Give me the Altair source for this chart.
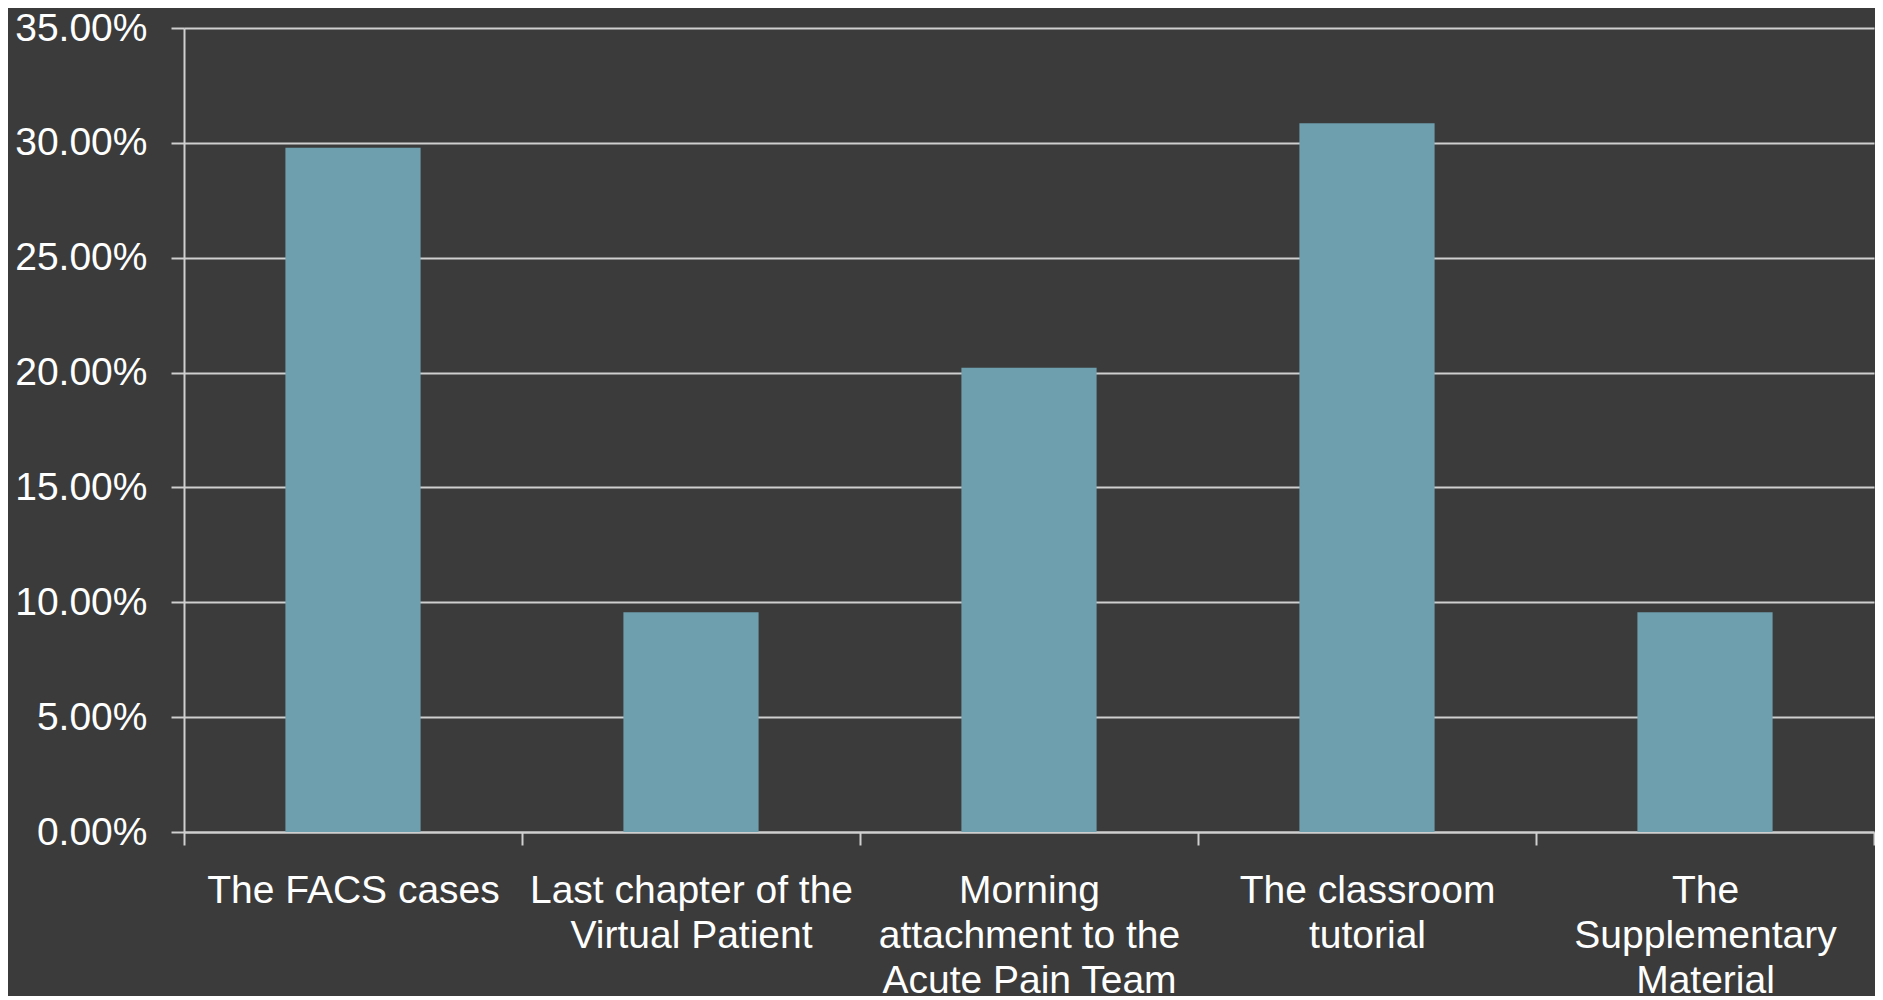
import altair as alt
import pandas as pd

categories = [
    "The FACS cases",
    "Last chapter of the|Virtual Patient",
    "Morning|attachment to the|Acute Pain Team",
    "The classroom|tutorial",
    "The|Supplementary|Material",
]
values = [0.2979, 0.0957, 0.2021, 0.3085, 0.0957]
y_ticks = [0.0, 0.05, 0.10, 0.15, 0.20, 0.25, 0.30, 0.35]

df = pd.DataFrame({"category": categories, "value": values})

grey = "#cfcfcf"
font = "Liberation Sans"
fsize = 39

chart = (
    alt.Chart(df)
    .mark_bar(color="#6e9faf", width=alt.RelativeBandSize(0.4))
    .encode(
        x=alt.X(
            "category:N",
            sort=categories,
            scale=alt.Scale(paddingInner=0, paddingOuter=0),
            axis=alt.Axis(
                title=None,
                labelAngle=0,
                tickBand="extent",
                labelExpr="split(datum.label, '|')",
                labelFont=font,
                labelFontSize=fsize,
                labelColor="#ffffff",
                labelLineHeight=45,
                labelPadding=26,
                labelLimit=0,
                labelOverlap=False,
                labelFlush=False,
                labelBaseline="top",
                domainColor=grey,
                domainWidth=2,
                tickColor=grey,
                tickWidth=2,
                tickSize=13,
                grid=False,
            ),
        ),
        y=alt.Y(
            "value:Q",
            scale=alt.Scale(domain=[0, 0.35], nice=False, zero=True),
            axis=alt.Axis(
                title=None,
                values=y_ticks,
                format=".2%",
                labelFont=font,
                labelFontSize=fsize,
                labelColor="#ffffff",
                labelPadding=24,
                labelLimit=0,
                labelFlush=False,
                labelOverlap=False,
                domainColor=grey,
                domainWidth=2,
                tickColor=grey,
                tickWidth=2,
                tickSize=13,
                grid=True,
                gridColor=grey,
                gridWidth=2,
            ),
        ),
    )
    .properties(
        width=1690,
        height=804,
        background="#3b3b3b",
        padding={"left": 176, "top": 20, "right": 1, "bottom": 164},
        autosize=alt.AutoSizeParams(type="none"),
    )
    .configure_view(stroke=None)
)

chart.save("out.html", embed_options={"renderer": "svg", "actions": False})
